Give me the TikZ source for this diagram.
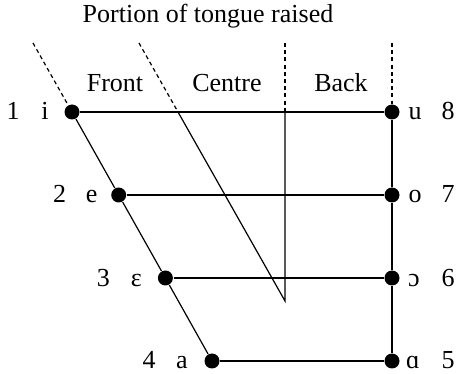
\documentclass[tikz,border=0pt]{standalone}
\usepackage{fontspec}
\setmainfont{Liberation Serif}

\begin{document}
\begin{tikzpicture}[x=0.5pt,y=-0.5pt,line width=0.6pt,
  dot/.style={circle,fill=black,inner sep=0pt,minimum size=7.5pt},
  lbl/.style={anchor=base,inner sep=0pt,font=\fontsize{13}{15}\selectfont},
  guide/.style={dash pattern=on 2pt off 1.6pt}]
  \useasboundingbox (0,0) rectangle (456,374);
  % titel en vakken
  \node[lbl] (title) at (208,23) {Portion of tongue raised};
  \node[lbl] (front) at (115,92) {Front};
  \node[lbl] (centre) at (227,92) {Centre};
  \node[lbl] (back) at (341,92) {Back};
  % klinkerpunten
  \node[dot] (f1) at (72,112) {};
  \node[dot] (f2) at (118.7,195) {};
  \node[dot] (f3) at (165.4,278) {};
  \node[dot] (f4) at (212,361) {};
  \node[dot] (b8) at (392,112) {};
  \node[dot] (b7) at (392,195) {};
  \node[dot] (b6) at (392,278) {};
  \node[dot] (b5) at (392,361) {};
  % hulplijnen boven
  \coordinate (t1) at (33,43);
  \coordinate (t2) at (139,43);
  \coordinate (m2) at (178,112);
  \coordinate (t3) at (285,43);
  \coordinate (m3) at (285,112);
  \coordinate (z) at (285,301);
  \coordinate (t4) at (392,43);
  \draw[guide] (t1)--(f1);
  \draw[guide] (t2)--(m2);
  \draw[guide] (t3)--(m3);
  \draw[guide] (t4)--(b8);
  \draw (m2)--(z)--(m3);
  % kaart
  \draw (f1)--(f2)--(f3)--(f4);
  \draw (b8)--(b7)--(b6)--(b5);
  \draw (f1)--(b8); \draw (f2)--(b7); \draw (f3)--(b6); \draw (f4)--(b5);
  % symbolen en nummers
  \node[lbl] (li) at ([shift={(-27,8)}]f1) {i};
  \node[lbl] (n1) at ([shift={(-59,8)}]f1) {1};
  \node[lbl] (le) at ([shift={(-27,8)}]f2) {e};
  \node[lbl] (n2) at ([shift={(-59,8)}]f2) {2};
  \node[lbl] (lE) at ([shift={(-29,8)}]f3) {ɛ};
  \node[lbl] (n3) at ([shift={(-62,8)}]f3) {3};
  \node[lbl] (la) at ([shift={(-30,8)}]f4) {a};
  \node[lbl] (n4) at ([shift={(-63,8)}]f4) {4};
  \node[lbl] (lu) at ([shift={(23,8)}]b8) {u};
  \node[lbl] (n8) at ([shift={(56,8)}]b8) {8};
  \node[lbl] (lo) at ([shift={(23,8)}]b7) {o};
  \node[lbl] (n7) at ([shift={(56,8)}]b7) {7};
  \node[lbl] (lO) at ([shift={(22,8)}]b6) {ɔ};
  \node[lbl] (n6) at ([shift={(56,8)}]b6) {6};
  \node[lbl] (lA) at ([shift={(21,8)}]b5) {ɑ};
  \node[lbl] (n5) at ([shift={(56,8)}]b5) {5};
\end{tikzpicture}
\end{document}
